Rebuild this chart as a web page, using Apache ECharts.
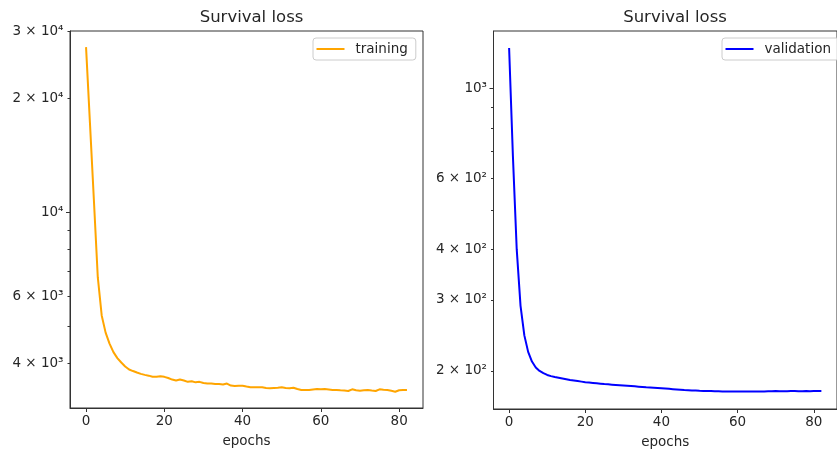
<!DOCTYPE html>
<html>
<head>
<meta charset="utf-8">
<title>Survival loss</title>
<script src="https://cdn.jsdelivr.net/npm/echarts@6/dist/echarts.min.js"></script>
<style>
  html, body { margin: 0; padding: 0; background: #ffffff; }
  #chart { width: 837px; height: 455px; }
</style>
</head>
<body>
<div id="chart"></div>
<script>
// Survival loss per epoch, training and validation (log scale)
const epochs = Array.from({ length: 83 }, (_, i) => i);

const trainingLoss = [
  27300, 17200, 10800, 6750, 5350, 4820, 4510, 4283, 4130, 4020,
  3925, 3852, 3817, 3783, 3752, 3730, 3712, 3687, 3685, 3698,
  3685, 3659, 3625, 3604, 3625, 3604, 3575, 3588, 3564, 3575,
  3549, 3538, 3538, 3527, 3527, 3516, 3538, 3495, 3485, 3491,
  3491, 3475, 3460, 3458, 3458, 3458, 3443, 3437, 3443, 3449,
  3458, 3443, 3437, 3449, 3422, 3402, 3402, 3402, 3412, 3422,
  3416, 3422, 3412, 3402, 3402, 3396, 3391, 3381, 3416, 3396,
  3388, 3396, 3402, 3391, 3381, 3416, 3406, 3402, 3385, 3367,
  3398, 3402, 3402
];

const validationLoss = [
  1262, 680, 400, 290, 245, 223, 211, 204, 200, 197.5,
  195.5, 194.2, 193.2, 192.4, 191.6, 190.8, 190.0, 189.4, 188.8, 188.2,
  187.6, 187.2, 186.8, 186.4, 186.0, 185.6, 185.3, 185.0, 184.7, 184.4,
  184.1, 183.8, 183.5, 183.2, 182.9, 182.6, 182.3, 182.1, 181.8, 181.5,
  181.2, 180.9, 180.6, 180.3, 180.0, 179.7, 179.4, 179.2, 179.0, 178.8,
  178.6, 178.5, 178.4, 178.3, 178.2, 178.1, 178.0, 178.0, 177.9, 177.9,
  177.9, 177.9, 178.0, 178.0, 177.9, 177.9, 178.0, 178.0, 178.1, 178.1,
  178.3, 178.2, 178.1, 178.2, 178.3, 178.3, 178.2, 178.2, 178.3, 178.2,
  178.3, 178.3, 178.3
];

// Axis ticks
const xTicks = [0, 20, 40, 60, 80];

const trainLabelValues = [4000, 6000, 10000, 20000, 30000];
const trainLabelTexts = ['4 × 10³', '6 × 10³', '10⁴', '2 × 10⁴', '3 × 10⁴'];
const trainMinorTicks = [4000, 5000, 6000, 7000, 8000, 9000, 20000, 30000];
const trainMajorTicks = [10000];

const valLabelValues = [200, 300, 400, 600, 1000];
const valLabelTexts = ['2 × 10²', '3 × 10²', '4 × 10²', '6 × 10²', '10³'];
const valMinorTicks = [200, 300, 400, 500, 600, 700, 800, 900];
const valMajorTicks = [1000];

const seriesNames = ['training', 'validation'];
const seriesColors = ['#ffa500', '#0000ff'];

const FONT = 'DejaVu Sans';
const TEXT = '#262626';
const SPINE = '#333333';

function labelLookup(values, texts) {
  return function (v) {
    for (let i = 0; i < values.length; i++) {
      if (Math.abs(values[i] - v) / values[i] < 1e-6) return texts[i];
    }
    return '';
  };
}

const grids = [
  { left: 70, top: 31, width: 353, height: 377 },
  { left: 493.5, top: 31, width: 353, height: 378 }
];

function makeXAxis(gridIndex) {
  return {
    type: 'value',
    gridIndex: gridIndex,
    min: -4.1,
    max: 86.1,
    name: 'epochs',
    nameLocation: 'middle',
    nameGap: 26,
    nameTextStyle: { fontFamily: FONT, fontSize: 13.5, color: TEXT },
    axisLine: { show: true, onZero: false, lineStyle: { color: SPINE, width: 1 } },
    axisTick: { show: true, customValues: xTicks, length: 4, lineStyle: { color: SPINE, width: 1 } },
    axisLabel: { show: true, customValues: xTicks, margin: 6, fontFamily: FONT, fontSize: 13.5, color: TEXT },
    splitLine: { show: false }
  };
}

function makeYAxes(gridIndex, min, max, labelValues, labelTexts, minor, major) {
  return [
    {
      type: 'log',
      logBase: 10,
      gridIndex: gridIndex,
      position: 'left',
      min: min,
      max: max,
      axisLine: { show: true, onZero: false, lineStyle: { color: SPINE, width: 1 } },
      axisTick: { show: true, customValues: minor, length: 2.5, lineStyle: { color: SPINE, width: 1 } },
      axisLabel: {
        show: true,
        customValues: labelValues,
        formatter: labelLookup(labelValues, labelTexts),
        margin: 6.5,
        fontFamily: FONT,
        fontSize: 13.5,
        color: TEXT
      },
      splitLine: { show: false },
      minorTick: { show: false },
      minorSplitLine: { show: false }
    },
    {
      type: 'log',
      logBase: 10,
      gridIndex: gridIndex,
      position: 'left',
      min: min,
      max: max,
      axisLine: { show: false, onZero: false },
      axisTick: { show: true, customValues: major, length: 4, lineStyle: { color: SPINE, width: 1 } },
      axisLabel: { show: false },
      splitLine: { show: false }
    }
  ];
}

const chart = echarts.init(document.getElementById('chart'), null, { renderer: 'canvas' });

chart.setOption({
  animation: false,
  backgroundColor: '#ffffff',
  title: [
    {
      text: 'Survival loss',
      left: 246.5,
      textAlign: 'center',
      top: 4,
      textStyle: { fontFamily: FONT, fontSize: 16.5, fontWeight: 'normal', color: TEXT }
    },
    {
      text: 'Survival loss',
      left: 670,
      textAlign: 'center',
      top: 4,
      textStyle: { fontFamily: FONT, fontSize: 16.5, fontWeight: 'normal', color: TEXT }
    }
  ],
  legend: [
    {
      data: [{ name: seriesNames[0], icon: 'rect' }],
      left: 313,
      top: 38,
      orient: 'vertical',
      itemWidth: 28,
      itemHeight: 2,
      padding: [4, 8, 4, 3.5],
      backgroundColor: 'rgba(255,255,255,0.8)',
      borderColor: '#cccccc',
      borderWidth: 1,
      borderRadius: 3,
      textStyle: { fontFamily: FONT, fontSize: 13.5, color: TEXT, padding: [0, 0, 0, 6] },
      selectedMode: false
    },
    {
      data: [{ name: seriesNames[1], icon: 'rect' }],
      left: 722,
      top: 38,
      orient: 'vertical',
      itemWidth: 28,
      itemHeight: 2,
      padding: [4, 8, 4, 3.5],
      backgroundColor: 'rgba(255,255,255,0.8)',
      borderColor: '#cccccc',
      borderWidth: 1,
      borderRadius: 3,
      textStyle: { fontFamily: FONT, fontSize: 13.5, color: TEXT, padding: [0, 0, 0, 6] },
      selectedMode: false
    }
  ],
  grid: grids.map(g => Object.assign({
    show: true,
    borderColor: SPINE,
    borderWidth: 1,
    backgroundColor: 'transparent',
    containLabel: false
  }, g)),
  xAxis: [makeXAxis(0), makeXAxis(1)],
  yAxis: [
    ...makeYAxes(0, 3050, 30100, trainLabelValues, trainLabelTexts, trainMinorTicks, trainMajorTicks),
    ...makeYAxes(1, 161, 1390, valLabelValues, valLabelTexts, valMinorTicks, valMajorTicks)
  ],
  series: [
    {
      name: seriesNames[0],
      type: 'line',
      xAxisIndex: 0,
      yAxisIndex: 0,
      data: epochs.map((e, i) => [e, trainingLoss[i]]),
      showSymbol: false,
      symbol: 'none',
      lineStyle: { color: seriesColors[0], width: 2 },
      itemStyle: { color: seriesColors[0] },
      z: 3
    },
    {
      name: seriesNames[1],
      type: 'line',
      xAxisIndex: 1,
      yAxisIndex: 2,
      data: epochs.map((e, i) => [e, validationLoss[i]]),
      showSymbol: false,
      symbol: 'none',
      lineStyle: { color: seriesColors[1], width: 2 },
      itemStyle: { color: seriesColors[1] },
      z: 3
    }
  ]
});
</script>
</body>
</html>
